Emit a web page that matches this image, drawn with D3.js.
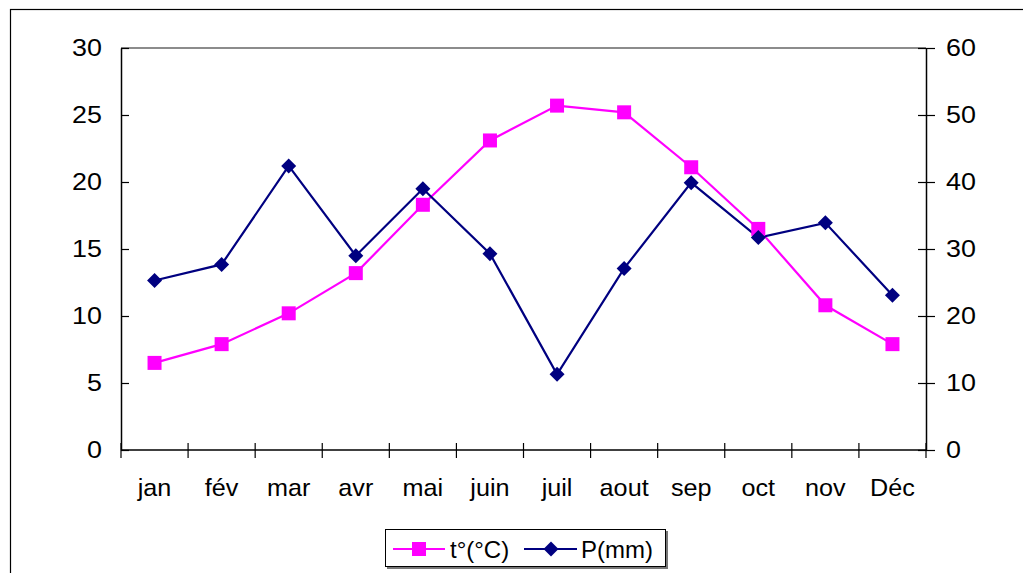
<!DOCTYPE html>
<html>
<head>
<meta charset="utf-8">
<script src="https://cdn.jsdelivr.net/npm/d3@7"></script>
<style>
  html, body { margin: 0; padding: 0; background: #fff; }
  svg { display: block; }
  text { font-family: "Liberation Sans", Arial, sans-serif; fill: #000; }
</style>
</head>
<body>
<svg id="chart" width="1023" height="573"></svg>
<script>
// Monthly climate data: temperature (left axis) and precipitation (right axis)
const months = ["jan", "fév", "mar", "avr", "mai", "juin", "juil", "aout", "sep", "oct", "nov", "Déc"];
const temperature = [6.5, 7.9, 10.2, 13.2, 18.3, 23.1, 25.7, 25.2, 21.1, 16.5, 10.8, 7.9];
const precipitation = [25.3, 27.7, 42.4, 29.0, 39.0, 29.3, 11.3, 27.1, 39.9, 31.7, 33.9, 23.1];
const tempTicks = [0, 5, 10, 15, 20, 25, 30];
const precipTicks = [0, 10, 20, 30, 40, 50, 60];
const seriesNames = ["t°(°C)", "P(mm)"];

const W = 1023, H = 573;
const plot = { left: 121, right: 926, top: 48, bottom: 450 };
const tempColor = "#ff00ff";
const precipColor = "#000080";
const fontSize = 24;
const numStretch = 1.12;

const svg = d3.select("#chart");

// Outer frame (extends past the right and bottom edges)
svg.append("rect")
  .attr("x", 10.5).attr("y", 9.5)
  .attr("width", W + 20).attr("height", H + 20)
  .attr("fill", "#fff").attr("stroke", "#000").attr("stroke-width", 1.2);

const x = d3.scaleBand().domain(months).range([plot.left, plot.right]).padding(0);
const yL = d3.scaleLinear().domain([0, 30]).range([plot.bottom, plot.top]);
const yR = d3.scaleLinear().domain([0, 60]).range([plot.bottom, plot.top]);

function label(g, px, py, str, anchor, sx) {
  return g.append("text")
    .attr("transform", `translate(${px},${py}) scale(${sx || 1},1)`)
    .attr("text-anchor", anchor)
    .attr("dominant-baseline", "central")
    .style("font-size", fontSize + "px")
    .text(str);
}

// Plot area top border
svg.append("line")
  .attr("x1", plot.left).attr("x2", plot.right)
  .attr("y1", plot.top).attr("y2", plot.top)
  .attr("stroke", "#8c8c8c").attr("stroke-width", 2);

// Left axis (temperature), cross ticks
const leftAxis = svg.append("g").attr("transform", `translate(${plot.left},0)`)
  .call(d3.axisLeft(yL).tickValues(tempTicks).tickSizeInner(8).tickSizeOuter(0).tickFormat(""));
leftAxis.selectAll(".tick line").attr("x2", 8);
tempTicks.forEach(t => label(svg, plot.left - 19, yL(t), String(t), "end", numStretch));

// Right axis (precipitation)
const rightAxis = svg.append("g").attr("transform", `translate(${plot.right},0)`)
  .call(d3.axisRight(yR).tickValues(precipTicks).tickSizeInner(9).tickSizeOuter(0).tickFormat(""));
rightAxis.selectAll(".tick line").attr("x1", -8);
precipTicks.forEach(t => label(svg, plot.right + 20, yR(t), String(t), "start", numStretch));

[leftAxis, rightAxis].forEach(g => {
  g.select(".domain").attr("stroke", "#000").attr("stroke-width", 1.5);
  g.selectAll(".tick line").attr("stroke", "#000").attr("stroke-width", 1.2);
});

// Bottom axis: ticks at the category boundaries, labels centred in each band
const bottom = svg.append("g").attr("transform", `translate(0,${plot.bottom})`);
bottom.append("line")
  .attr("x1", plot.left).attr("x2", plot.right)
  .attr("stroke", "#000").attr("stroke-width", 1.5);
const boundaries = months.map(m => x(m)).concat([plot.right]);
bottom.selectAll("line.tick").data(boundaries).enter().append("line")
  .attr("class", "tick")
  .attr("x1", d => d).attr("x2", d => d)
  .attr("y1", -7).attr("y2", 8)
  .attr("stroke", "#000").attr("stroke-width", 1.2);
months.forEach(m => label(bottom, x(m) + x.bandwidth() / 2, 38, m, "middle", 1.05));

const cx = m => x(m) + x.bandwidth() / 2;

// Temperature series: line with square markers
const tempData = months.map((m, i) => ({ m, v: temperature[i] }));
svg.append("path").datum(tempData)
  .attr("fill", "none").attr("stroke", tempColor).attr("stroke-width", 2.2)
  .attr("d", d3.line().x(d => cx(d.m)).y(d => yL(d.v)));

// Precipitation series: line with diamond markers
const precipData = months.map((m, i) => ({ m, v: precipitation[i] }));
svg.append("path").datum(precipData)
  .attr("fill", "none").attr("stroke", precipColor).attr("stroke-width", 2.2)
  .attr("d", d3.line().x(d => cx(d.m)).y(d => yR(d.v)));

const sq = 14, dm = 7.5;
const diamond = (px, py, r) => `M${px},${py - r}L${px + r},${py}L${px},${py + r}L${px - r},${py}Z`;

svg.append("g").selectAll("rect").data(tempData).enter().append("rect")
  .attr("x", d => cx(d.m) - sq / 2).attr("y", d => yL(d.v) - sq / 2)
  .attr("width", sq).attr("height", sq)
  .attr("fill", tempColor);

svg.append("g").selectAll("path").data(precipData).enter().append("path")
  .attr("d", d => diamond(cx(d.m), yR(d.v), dm))
  .attr("fill", precipColor);

// Legend
const lg = svg.append("g");
lg.append("rect").attr("x", 387).attr("y", 531).attr("width", 281).attr("height", 38)
  .attr("fill", "#777");
lg.append("rect").attr("x", 385.5).attr("y", 529.5).attr("width", 280).attr("height", 37)
  .attr("fill", "#fff").attr("stroke", "#000").attr("stroke-width", 1);
const ly = 549;
// temperature entry
lg.append("line").attr("x1", 393).attr("x2", 445).attr("y1", ly).attr("y2", ly)
  .attr("stroke", tempColor).attr("stroke-width", 2.2);
lg.append("rect").attr("x", 419 - sq / 2).attr("y", ly - sq / 2).attr("width", sq).attr("height", sq)
  .attr("fill", tempColor);
label(lg, 450, ly, seriesNames[0], "start", 1);
// precipitation entry
lg.append("line").attr("x1", 524).attr("x2", 577).attr("y1", ly).attr("y2", ly)
  .attr("stroke", precipColor).attr("stroke-width", 2.2);
lg.append("path").attr("d", diamond(551, ly, dm)).attr("fill", precipColor);
label(lg, 581, ly, seriesNames[1], "start", 1);
</script>
</body>
</html>
